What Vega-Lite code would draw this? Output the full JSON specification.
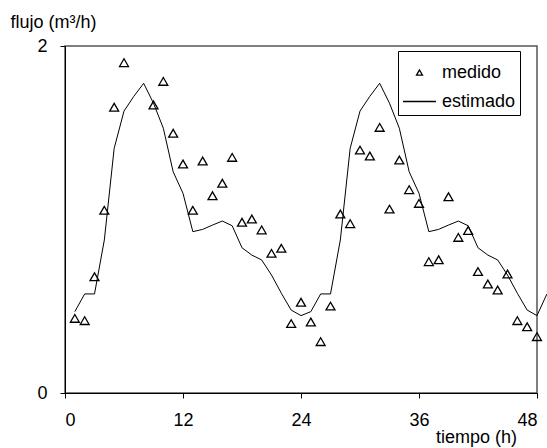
{
  "$schema": "https://vega.github.io/schema/vega-lite/v6.json",
  "width": 472,
  "height": 347,
  "autosize": {"type": "none"},
  "padding": {"left": 65, "top": 46, "right": 10, "bottom": 55},
  "background": "white",
  "config": {
    "font": "Liberation Sans",
    "view": {"stroke": "#555555", "strokeWidth": 1.5},
    "axis": {"grid": false, "domainColor": "black", "tickColor": "black", "labelColor": "black", "titleColor": "black", "labelFontSize": 18, "titleFontSize": 18, "titleFontWeight": "normal", "labelFont": "Liberation Sans", "titleFont": "Liberation Sans"}
  },
  "data": {
    "values": [
      {"t": 1, "medido": 0.43, "estimado": 0.469},
      {"t": 2, "medido": 0.417, "estimado": 0.571},
      {"t": 3, "medido": 0.67, "estimado": 0.571},
      {"t": 4, "medido": 1.053, "estimado": 0.882},
      {"t": 5, "medido": 1.647, "estimado": 1.41},
      {"t": 6, "medido": 1.904, "estimado": 1.625},
      {"t": 7, "medido": null, "estimado": 1.71},
      {"t": 8, "medido": null, "estimado": 1.785},
      {"t": 9, "medido": 1.66, "estimado": 1.67},
      {"t": 10, "medido": 1.796, "estimado": 1.526},
      {"t": 11, "medido": 1.497, "estimado": 1.275},
      {"t": 12, "medido": 1.32, "estimado": 1.151},
      {"t": 13, "medido": 1.053, "estimado": 0.93},
      {"t": 14, "medido": 1.337, "estimado": 0.943},
      {"t": 15, "medido": 1.137, "estimado": 0.968},
      {"t": 16, "medido": 1.209, "estimado": 0.991},
      {"t": 17, "medido": 1.358, "estimado": 0.964},
      {"t": 18, "medido": 0.984, "estimado": 0.837},
      {"t": 19, "medido": 1.003, "estimado": 0.795},
      {"t": 20, "medido": 0.94, "estimado": 0.767},
      {"t": 21, "medido": 0.805, "estimado": 0.68},
      {"t": 22, "medido": 0.834, "estimado": 0.575},
      {"t": 23, "medido": 0.40, "estimado": 0.478},
      {"t": 24, "medido": 0.523, "estimado": 0.446},
      {"t": 25, "medido": 0.409, "estimado": 0.469},
      {"t": 26, "medido": 0.296, "estimado": 0.571},
      {"t": 27, "medido": 0.501, "estimado": 0.571},
      {"t": 28, "medido": 1.032, "estimado": 0.882},
      {"t": 29, "medido": 0.976, "estimado": 1.41},
      {"t": 30, "medido": 1.40, "estimado": 1.625},
      {"t": 31, "medido": 1.366, "estimado": 1.71},
      {"t": 32, "medido": 1.531, "estimado": 1.785},
      {"t": 33, "medido": 1.06, "estimado": 1.67},
      {"t": 34, "medido": 1.343, "estimado": 1.526},
      {"t": 35, "medido": 1.172, "estimado": 1.275},
      {"t": 36, "medido": 1.093, "estimado": 1.151},
      {"t": 37, "medido": 0.757, "estimado": 0.93},
      {"t": 38, "medido": 0.768, "estimado": 0.943},
      {"t": 39, "medido": 1.131, "estimado": 0.968},
      {"t": 40, "medido": 0.897, "estimado": 0.991},
      {"t": 41, "medido": 0.937, "estimado": 0.964},
      {"t": 42, "medido": 0.70, "estimado": 0.837},
      {"t": 43, "medido": 0.628, "estimado": 0.795},
      {"t": 44, "medido": 0.594, "estimado": 0.767},
      {"t": 45, "medido": 0.686, "estimado": 0.68},
      {"t": 46, "medido": 0.417, "estimado": 0.575},
      {"t": 47, "medido": 0.382, "estimado": 0.478},
      {"t": 48, "medido": 0.325, "estimado": 0.446},
      {"t": 49, "medido": null, "estimado": 0.57}
    ]
  },
  "encoding": {
    "x": {
      "field": "t", "type": "quantitative",
      "scale": {"domain": [0, 48], "nice": false, "zero": false},
      "axis": {"values": [0, 12, 24, 36, 48], "format": "d", "tickSize": 5, "labelPadding": 13, "domainWidth": 1,
        "title": "tiempo (h)", "titleX": 411, "titleY": 49, "titleAlign": "center", "titleBaseline": "alphabetic"}
    }
  },
  "layer": [
    {
      "mark": {"type": "line", "color": "black", "strokeWidth": 1, "clip": false},
      "encoding": {
        "y": {
          "field": "estimado", "type": "quantitative",
          "scale": {"domain": [0, 2], "nice": false},
          "axis": {"values": [0, 1, 2], "format": "d", "tickSize": 5, "labelPadding": 13,
            "title": "flujo (m³/h)", "titleAngle": 0, "titleX": -55, "titleY": -19, "titleAlign": "left", "titleBaseline": "alphabetic"}
        },
        "color": {
          "datum": "estimado",
          "scale": {"domain": ["medido", "estimado"], "range": ["black", "black"]},
          "legend": {
            "orient": "none", "legendX": 333, "legendY": 5, "title": null,
            "strokeColor": "black", "padding": 4, "fillColor": "white",
            "symbolType": "stroke", "symbolSize": 400, "symbolStrokeWidth": 1,
            "labelFontSize": 18, "labelFont": "Liberation Sans", "labelColor": "black", "labelOffset": 5, "rowPadding": 2,
            "encode": {
              "symbols": {
                "update": {
                  "shape": {"signal": "datum.value === 'medido' ? 'triangle-up' : 'stroke'"},
                  "size": {"signal": "datum.value === 'medido' ? 35 : 1090"},
                  "fill": {"value": "transparent"},
                  "stroke": {"value": "black"},
                  "strokeWidth": {"value": 1.3}
                }
              }
            }
          }
        }
      }
    },
    {
      "transform": [{"filter": "datum.medido != null"}],
      "mark": {"type": "point", "shape": "triangle-up", "filled": false, "stroke": "black", "strokeWidth": 1.3, "size": 80, "opacity": 1},
      "encoding": {
        "y": {"field": "medido", "type": "quantitative"},
        "color": {"datum": "medido"}
      }
    }
  ]
}
